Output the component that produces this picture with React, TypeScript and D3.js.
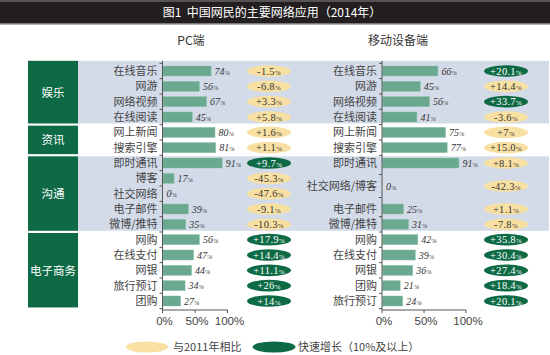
import React from "react";
import * as d3 from "d3";

const title = "图1  中国网民的主要网络应用（2014年）";
const groupNames = ["娱乐", "资讯", "沟通", "电子商务"];
const groupSizes = [4, 2, 5, 5];

const pcCats = ["在线音乐", "网游", "网络视频", "在线阅读", "网上新闻", "搜索引擎", "即时通讯", "博客", "社交网络", "电子邮件", "微博/推特", "网购", "在线支付", "网银", "旅行预订", "团购"];
const pcValues = [74, 56, 67, 45, 80, 81, 91, 17, 0, 39, 35, 56, 47, 44, 34, 27];
const pcChange = ["-1.5", "-6.8", "+3.3", "+5.8", "+1.6", "+1.1", "+9.7", "-45.3", "-47.6", "-9.1", "-10.3", "+17.9", "+14.4", "+11.1", "+26", "+14"];
const pcFast = [false, false, false, false, false, false, true, false, false, false, false, true, true, true, true, true];

const mobCats = ["在线音乐", "网游", "网络视频", "在线阅读", "网上新闻", "搜索引擎", "即时通讯", "社交网络/博客", "电子邮件", "微博/推特", "网购", "在线支付", "网银", "团购", "旅行预订"];
const mobSlots = [0, 1, 2, 3, 4, 5, 6, 7.5, 9, 10, 11, 12, 13, 14, 15];
const mobValues = [66, 45, 56, 41, 75, 77, 91, 0, 25, 31, 42, 39, 36, 21, 24];
const mobChange = ["+20.1", "+14.4", "+33.7", "-3.6", "+7", "+15.0", "+8.1", "-42.3", "+1.1", "-7.8", "+35.8", "+30.4", "+27.4", "+18.4", "+20.1"];
const mobFast = [true, false, true, false, false, false, false, false, false, false, true, true, true, true, true];

const axisTicks = [0, 50, 100];
const legendLabels = ["与2011年相比", "快速增长（10%及以上）"];

const CJK = "'Noto Sans CJK SC', 'Noto Sans', sans-serif";
const SERIF = "'Liberation Serif', 'DejaVu Serif', serif";
const GREEN = "#0e6a45";
const YELLOW = "#f8e0a2";
const BAR = "#6aa890";
const BG = "#d3dbe9";

export default function App() {
  const W = 550, H = 355;
  const nRows = 16;
  const y = d3.scaleLinear().domain([0, nRows - 1]).range([71, 301]);
  const step = y(1) - y(0);
  const pcX = d3.scaleLinear().domain([0, 100]).range([162.5, 227.5]);
  const mobX = d3.scaleLinear().domain([0, 100]).range([382, 466]);
  const pcOvalX = 269;
  const mobOvalX = 506;

  const groups = groupNames.map((name, i) => {
    const start = d3.sum(groupSizes.slice(0, i));
    const end = start + groupSizes[i] - 1;
    const top = y(start) - step / 2 - (i === 0 ? 2.5 : -1);
    const bottom = y(end) + step / 2 - 1.2;
    return { name, start, end, top, bottom, shaded: i % 2 === 0 };
  });

  const axisTop = groups[0].top;
  const axisBottom = 310;

  const pcBoundaries = d3.range(0, nRows + 1).map((i) => y(i - 0.5));
  const mobBoundaries = [-0.5, ...mobSlots.map((s, i) => (i < mobSlots.length - 1 ? (s + mobSlots[i + 1]) / 2 : s + 0.5))].map((s) => y(s));

  const pct = (v: number | string, size: number) => (
    <>
      {v}
      <tspan fontSize={size * 0.65}>%</tspan>
    </>
  );

  const oval = (cx: number, cy: number, text: string, fast: boolean, key: string, w = 44) => (
    <g key={key}>
      <ellipse cx={cx} cy={cy} rx={w / 2} ry={5.8} fill={fast ? GREEN : YELLOW} />
      <text x={cx} y={cy + 3.5} textAnchor="middle" fontFamily={SERIF} fontSize={10.5} fill={fast ? "#fff" : "#333"} letterSpacing={0.3}>
        {pct(text, 10.5)}
      </text>
    </g>
  );

  const renderPanel = (
    cats: string[], slots: number[], values: number[], changes: string[], fast: boolean[],
    x: d3.ScaleLinear<number, number>, ovalX: number, boundaries: number[], id: string
  ) => (
    <g>
      {cats.map((c, i) => {
        const cy = y(slots[i]);
        return (
          <g key={id + c}>
            <text x={x(0) - 5} y={cy + 4} textAnchor="end" fontFamily={CJK} fontSize={11} fill="#444">{c}</text>
            {values[i] > 0 && (
              <rect x={x(0) + 0.5} y={cy - 5} width={x(values[i]) - x(0)} height={10} fill={BAR} stroke="#8cc0ab" strokeWidth={0.5} />
            )}
            <text x={x(values[i]) + 4} y={cy + 3.5} fontFamily={SERIF} fontStyle="italic" fontSize={10} fill="#333">
              {pct(values[i], 10)}
            </text>
            {oval(ovalX, cy, changes[i], fast[i], id + "o" + i)}
          </g>
        );
      })}
      <line x1={x(0)} x2={x(0)} y1={axisTop} y2={axisBottom} stroke="#555" strokeWidth={1} />
      {boundaries.map((b, i) => (
        <line key={id + "t" + i} x1={x(0) - 3} x2={x(0)} y1={b} y2={b} stroke="#555" strokeWidth={1} />
      ))}
      <line x1={x(0)} x2={x(100)} y1={axisBottom} y2={axisBottom} stroke="#555" strokeWidth={1} />
      {axisTicks.map((t) => (
        <g key={id + "x" + t}>
          <line x1={x(t)} x2={x(t)} y1={axisBottom} y2={axisBottom + 3} stroke="#555" />
          <text x={x(t) + 2} y={axisBottom + 15} textAnchor="middle" fontFamily="'Liberation Sans', Arial, sans-serif" fontSize={11.5} fill="#444">{t}%</text>
        </g>
      ))}
    </g>
  );

  return (
    <svg width={W} height={H} style={{ position: "absolute", left: 0, top: 0, background: "#fff" }}>
      <rect x={0} y={0} width={W} height={24} fill="#231f20" />
      <line x1={0} x2={W} y1={1} y2={1} stroke="#888" strokeWidth={1} />
      <line x1={0} x2={W} y1={24} y2={24} stroke="#999" strokeWidth={1.5} />
      <text x={272} y={17} textAnchor="middle" fontFamily={CJK} fontSize={12} fill="#fff" style={{ whiteSpace: "pre" }}>{title}</text>
      <text x={191} y={45} textAnchor="middle" fontFamily={CJK} fontSize={12} fill="#333">PC端</text>
      <text x={398} y={45} textAnchor="middle" fontFamily={CJK} fontSize={12} fill="#333">移动设备端</text>

      {groups.map((g) => (
        <g key={g.name}>
          {g.shaded && <rect x={78} y={g.top} width={471} height={g.bottom - g.top} fill={BG} />}
          <rect x={28} y={g.top} width={50} height={g.bottom - g.top} fill={GREEN} />
          <text x={53} y={(g.top + g.bottom) / 2 + 4.5} textAnchor="middle" fontFamily={CJK} fontSize={11.5} fill="#fff">{g.name}</text>
        </g>
      ))}

      {renderPanel(pcCats, d3.range(nRows), pcValues, pcChange, pcFast, pcX, pcOvalX, pcBoundaries, "pc")}
      {renderPanel(mobCats, mobSlots, mobValues, mobChange, mobFast, mobX, mobOvalX, mobBoundaries, "mob")}

      <ellipse cx={147} cy={347} rx={21} ry={5.5} fill={YELLOW} />
      <text x={173} y={351} fontFamily={CJK} fontSize={11} fill="#444">{legendLabels[0]}</text>
      <ellipse cx={274} cy={347} rx={21.5} ry={5.5} fill={GREEN} />
      <text x={298} y={351} fontFamily={CJK} fontSize={11} fill="#444">{legendLabels[1]}</text>
    </svg>
  );
}
